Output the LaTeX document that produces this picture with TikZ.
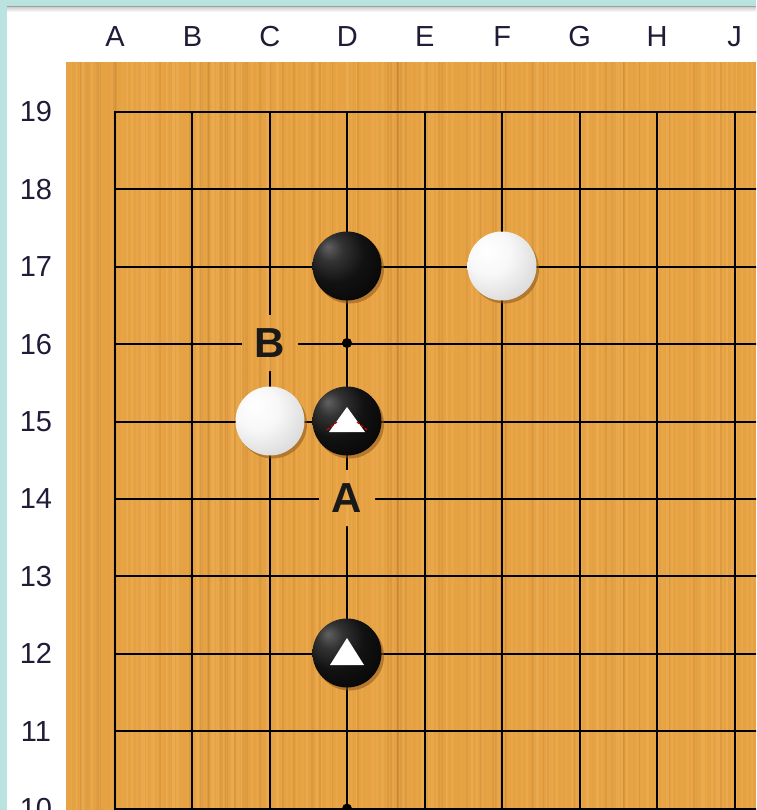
\documentclass[tikz,border=0pt]{standalone}
\usepackage{fontspec}
\setmainfont{Liberation Sans}
\usetikzlibrary{shadows}
\definecolor{cyanbg}{RGB}{186,226,222}
\definecolor{wood}{RGB}{230,162,66}
\definecolor{woodlight}{RGB}{240,180,95}
\definecolor{labcol}{RGB}{30,28,55}
\definecolor{shadowc}{RGB}{140,85,25}
\pgfdeclareradialshading{blackstone}{\pgfpoint{-14bp}{14bp}}{color(0bp)=(black!62);color(9bp)=(black!80);color(22bp)=(black!93);color(36bp)=(black!97);color(58bp)=(black!85);color(75bp)=(black!80)}
\pgfdeclareradialshading{whitestone}{\pgfpoint{-12bp}{12bp}}{color(0bp)=(white);color(16bp)=(white!97!black);color(34bp)=(white!86!black);color(50bp)=(white!68!black);color(75bp)=(white!55!black)}
\newcommand{\woodtexture}{%
  \fill[wood] (66,62) rectangle (756,810);
  \pgfmathsetseed{7}
  \foreach \i in {0,...,137} {
    \pgfmathsetmacro\w{1+3*rnd}
    \pgfmathsetmacro\op{0.1+0.4*rnd}
    \fill[woodlight, opacity=\op] ({66+\i*5},62) rectangle ++(\w,748);
  }
  \pgfmathsetseed{11}
  \foreach \i in {0,...,60} {
    \pgfmathsetmacro\w{1+2*rnd}
    \pgfmathsetmacro\xx{66+690*rnd}
    \fill[shadowc, opacity=0.12] (\xx,62) rectangle ++(\w,748);
  }%
}
\begin{document}
\begin{tikzpicture}[x=1pt,y=-1pt,
  collab/.style={font=\fontsize{29}{29}\selectfont, text=labcol, inner sep=0pt},
  rowlab/.style={font=\fontsize{29}{29}\selectfont, text=labcol, inner sep=0pt},
  gridline/.style={line width=2pt, black},
  stonebase/.style={circle, minimum size=69pt, inner sep=0pt,
    drop shadow={shadow xshift=2.5pt, shadow yshift=-3pt, fill=shadowc, opacity=0.55}},
  bstone/.style={stonebase, shading=blackstone},
  wstone/.style={stonebase, shading=whitestone},
  boardlabel/.style={minimum size=56pt, inner sep=0pt, text=black!90,
    font=\bfseries\fontsize{42}{42}\selectfont},
  trimark/.style={fill=white},
]
\clip (0,0) rectangle (756,810);
\fill[white] (0,0) rectangle (756,810);
\fill[cyanbg] (0,0) rectangle (756,6);
\fill[cyanbg] (0,0) rectangle (7,810);
\fill[gray!75] (7,6) rectangle (756,8);
\shade[top color=gray!30, bottom color=white] (7,8) rectangle (756,12);
% board
\woodtexture
% column labels
\foreach \i/\L in {0/A,1/B,2/C,3/D,4/E,5/F,6/G,7/H,8/J}
  \node[collab] (col\L) at ({115+77.45*\i},37) {\L};
% row labels
\foreach \r in {19,...,10}
  \node[rowlab] (row\r) at (36,{112+77.4*(19-\r)}) {\r};
% grid
\foreach \i in {0,...,8}
  \draw[gridline] ({115+77.45*\i},111) -- ({115+77.45*\i},815);
\foreach \r in {19,...,10}
  \draw[gridline] (114,{112+77.4*(19-\r)}) -- (760,{112+77.4*(19-\r)});
% star points
\fill (347,343) circle (5);
\fill (347,808.6) circle (5);
% letter marks: restore wood under them, then the letters
\begin{scope}
  \clip (242,315) rectangle (298,371) (319,470) rectangle (375,526);
  \woodtexture
\end{scope}
\node[boardlabel] (markB) at (270,343) {B};
\node[boardlabel] (markA) at (347,498) {A};
% stones
\node[bstone] (d17) at (347,266) {};
\node[wstone] (f17) at (502,266) {};
\node[wstone] (c15) at (270,421) {};
\node[bstone] (d15) at (347,421) {};
\node[bstone] (d12) at (347,653) {};
% triangle marks
\fill[trimark] ([shift={(0,-15)}]d12.center) -- ([shift={(-17,12)}]d12.center) -- ([shift={(17,12)}]d12.center) -- cycle;
\fill[trimark] ([shift={(0,-14)}]d15.center) -- ([shift={(-18,11)}]d15.center) -- ([shift={(18,11)}]d15.center) -- cycle;
\draw[red!85!black, line width=1.2pt, dash pattern=on 3pt off 2pt]
  ([shift={(-20,9)}]d15.center) -- ([shift={(-10,1)}]d15.center);
\draw[red!85!black, line width=1.2pt, dash pattern=on 3pt off 2pt]
  ([shift={(20,9)}]d15.center) -- ([shift={(10,1)}]d15.center);
\end{tikzpicture}
\end{document}
